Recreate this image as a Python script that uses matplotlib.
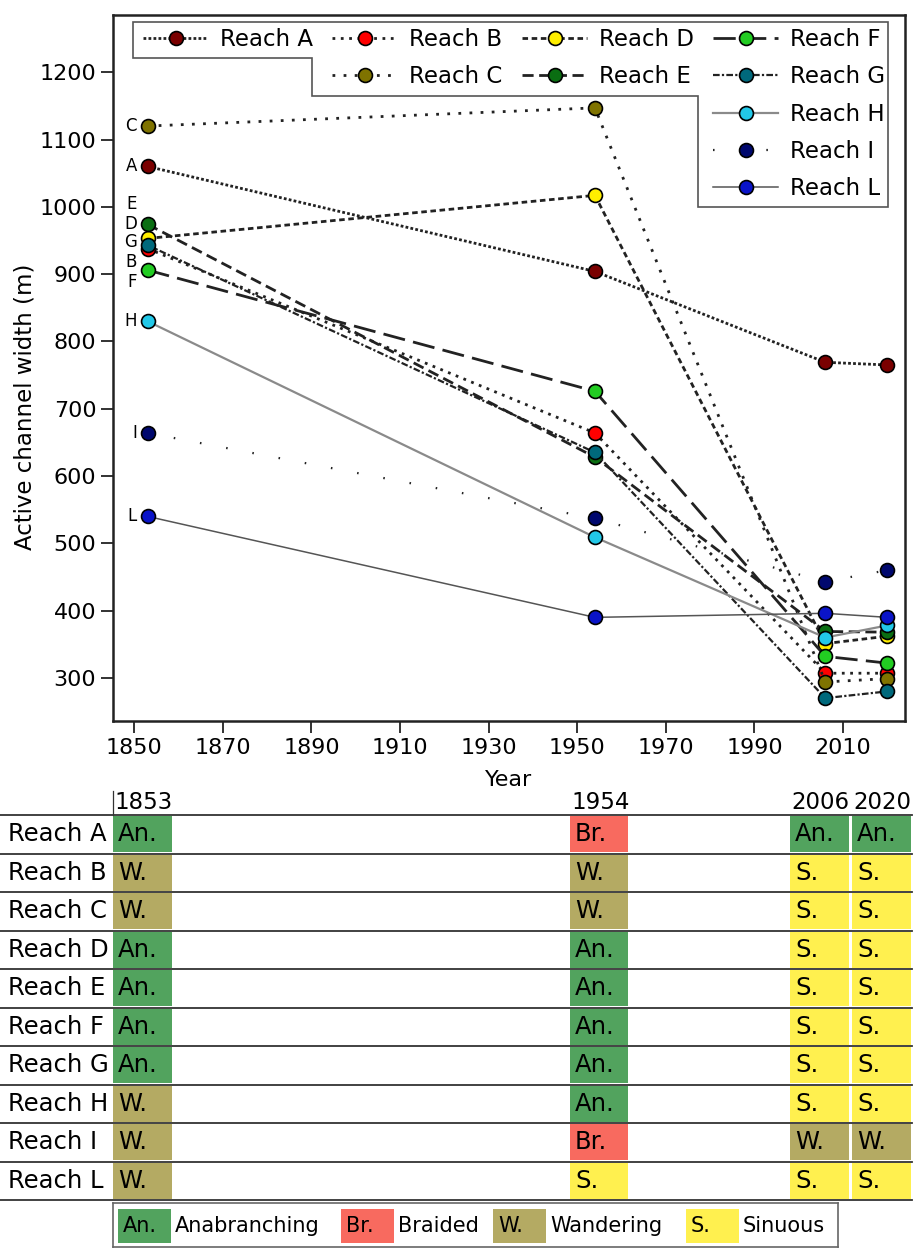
import matplotlib
matplotlib.use("Agg")
import matplotlib.pyplot as plt
from matplotlib.lines import Line2D
from matplotlib.patches import Polygon, Rectangle

# --- data --------------------------------------------------------------
years = [1853, 1954, 2006, 2020]
reaches = ["A", "B", "C", "D", "E", "F", "G", "H", "I", "L"]

width_A = [1060, 904, 769, 765]
width_B = [938, 664, 307, 307]
width_C = [1120, 1147, 294, 299]
width_D = [953, 1017, 351, 362]
width_E = [974, 628, 369, 368]
width_F = [906, 726, 332, 322]
width_G = [943, 635, 270, 280]
width_H = [830, 509, 360, 378]
width_I = [664, 537, 443, 460]
width_L = [540, 390, 396, 390]

morph_A = ["An.", "Br.", "An.", "An."]
morph_B = ["W.", "W.", "S.", "S."]
morph_C = ["W.", "W.", "S.", "S."]
morph_D = ["An.", "An.", "S.", "S."]
morph_E = ["An.", "An.", "S.", "S."]
morph_F = ["An.", "An.", "S.", "S."]
morph_G = ["An.", "An.", "S.", "S."]
morph_H = ["W.", "An.", "S.", "S."]
morph_I = ["W.", "Br.", "W.", "W."]
morph_L = ["W.", "S.", "S.", "S."]

class_codes = ["An.", "Br.", "W.", "S."]
class_names = ["Anabranching", "Braided", "Wandering", "Sinuous"]

widths = dict(A=width_A, B=width_B, C=width_C, D=width_D, E=width_E,
              F=width_F, G=width_G, H=width_H, I=width_I, L=width_L)
morphs = dict(A=morph_A, B=morph_B, C=morph_C, D=morph_D, E=morph_E,
              F=morph_F, G=morph_G, H=morph_H, I=morph_I, L=morph_L)

# --- styles ------------------------------------------------------------
styles = {
    "A": dict(mfc="#7a0000", color="#222222", ls=(0, (1, 0.8)), lw=2.0),
    "B": dict(mfc="#ff0000", color="#222222", ls=(0, (1, 2)), lw=2.0),
    "C": dict(mfc="#7f7300", color="#222222", ls=(0, (1, 3)), lw=2.0),
    "D": dict(mfc="#ffee00", color="#222222", ls=(0, (2, 1.3)), lw=2.0),
    "E": dict(mfc="#0a6e12", color="#222222", ls=(0, (4, 2)), lw=2.0),
    "F": dict(mfc="#22cc22", color="#222222", ls=(0, (8, 3)), lw=2.0),
    "G": dict(mfc="#00697c", color="#222222", ls=(0, (3, 1, 1, 1)), lw=1.6),
    "H": dict(mfc="#22c8e8", color="#8a8a8a", ls="-", lw=1.6),
    "I": dict(mfc="#00086e", color="#222222", ls=(0, (0.7, 11.3)), lw=1.6),
    "L": dict(mfc="#0a14c8", color="#555555", ls="-", lw=1.1),
}
class_colors = {"An.": "#52a35e", "Br.": "#f86a5f", "W.": "#b4aa63", "S.": "#fff04f"}

# letters next to the 1853 points (label heights)
letter_y = dict(C=1120, A=1060, E=1004, D=975, G=947, B=918, F=888, H=830, I=664, L=540)

plt.rcParams["font.family"] = ["DejaVu Sans"]

fig = plt.figure(figsize=(9.14, 12.49), dpi=100)
ax = fig.add_axes([113 / 914, 1 - 721 / 1249, 792 / 914, 706 / 1249])

lines = {}
for r in reaches:
    st = styles[r]
    (ln,) = ax.plot(years, widths[r], linestyle=st["ls"], color=st["color"], lw=st["lw"],
                    marker="o", ms=10, mfc=st["mfc"], mec="black", mew=1.2,
                    label="Reach " + r, zorder=3)
    lines[r] = ln
    ax.text(1850.6, letter_y[r], r, ha="right", va="center", fontsize=12)

ax.set_xlim(1845.2, 2024)
ax.set_ylim(236, 1285)
ax.set_xticks(range(1850, 2011, 20))
ax.set_yticks(range(300, 1201, 100))
ax.tick_params(labelsize=16, length=8.5, width=1.3, color="#222222")
for sp in ax.spines.values():
    sp.set_linewidth(1.8)
    sp.set_color("#222222")
ax.set_xlabel("Year", fontsize=16)
ax.xaxis.set_label_coords(0.5, -0.07)
ax.set_ylabel("Active channel width (m)", fontsize=16.5)
ax.yaxis.set_label_coords(-0.096, 0.445)

# stepped legend frame
frame = Polygon([(0.0253, 0.9901), (0.9785, 0.9901), (0.9785, 0.7280), (0.7386, 0.7280),
                 (0.7386, 0.8853), (0.2513, 0.8853), (0.2513, 0.9391), (0.0253, 0.9391)],
                closed=True, transform=ax.transAxes, facecolor="white",
                edgecolor="#555555", lw=1.2, zorder=4)
ax.add_patch(frame)

blank = Line2D([], [], linestyle="none")
order = [lines["A"], blank, blank, blank, blank,
         lines["B"], lines["C"], blank, blank, blank,
         lines["D"], lines["E"], blank, blank, blank,
         lines["F"], lines["G"], lines["H"], lines["I"], lines["L"]]
labels = [h.get_label() if h is not blank else "" for h in order]
leg = ax.legend(order, labels, ncol=4, loc="upper left", bbox_to_anchor=(0.038, 0.982),
                frameon=False, fontsize=16.5, handlelength=2.85, handletextpad=0.5,
                columnspacing=0.85, labelspacing=0.63, borderpad=0, borderaxespad=0)
leg.set_zorder(5)

# --- morphology table ---------------------------------------------------
tab = fig.add_axes([0, 1 - 1202 / 1249, 1, (1202 - 788) / 1249])
tab.set_xlim(0, 914)
tab.set_ylim(10.05, -0.701)
tab.axis("off")

col_left = [113, 570, 790, 852]
col_w = [59, 58, 59, 59]

for i in range(len(reaches) + 1):
    tab.plot([0, 912], [i, i], color="#333333", lw=1.3, zorder=3)
tab.plot([113, 113], [-0.62, 0], color="#333333", lw=0.9)

for c, yr in enumerate(years):
    tab.text(col_left[c] + 1, -0.32, str(yr), ha="left", va="center", fontsize=16.5)

for i, r in enumerate(reaches):
    tab.text(8, i + 0.5, "Reach " + r, ha="left", va="center", fontsize=17.5)
    for c, code in enumerate(morphs[r]):
        tab.add_patch(Rectangle((col_left[c], i + 0.03), col_w[c], 0.94,
                                facecolor=class_colors[code], edgecolor="none", zorder=1))
        tab.text(col_left[c] + 5, i + 0.5, code, ha="left", va="center", fontsize=17.5, zorder=2)

# --- class legend -------------------------------------------------------
lg = fig.add_axes([113 / 914, 1 - 1247 / 1249, 725 / 914, 44 / 1249])
lg.set_xlim(0, 725)
lg.set_ylim(0, 44)
lg.set_xticks([])
lg.set_yticks([])
for sp in lg.spines.values():
    sp.set_color("#666666")
    sp.set_linewidth(1.2)

patch_left = [5, 228, 380, 573]
for k, code in enumerate(class_codes):
    x0 = patch_left[k]
    lg.add_patch(Rectangle((x0, 4), 53, 34, facecolor=class_colors[code], edgecolor="none"))
    lg.text(x0 + 5, 21, code, ha="left", va="center", fontsize=15)
    lg.text(x0 + 57, 21, class_names[k], ha="left", va="center", fontsize=15)

fig.savefig("out.png", dpi=100)
